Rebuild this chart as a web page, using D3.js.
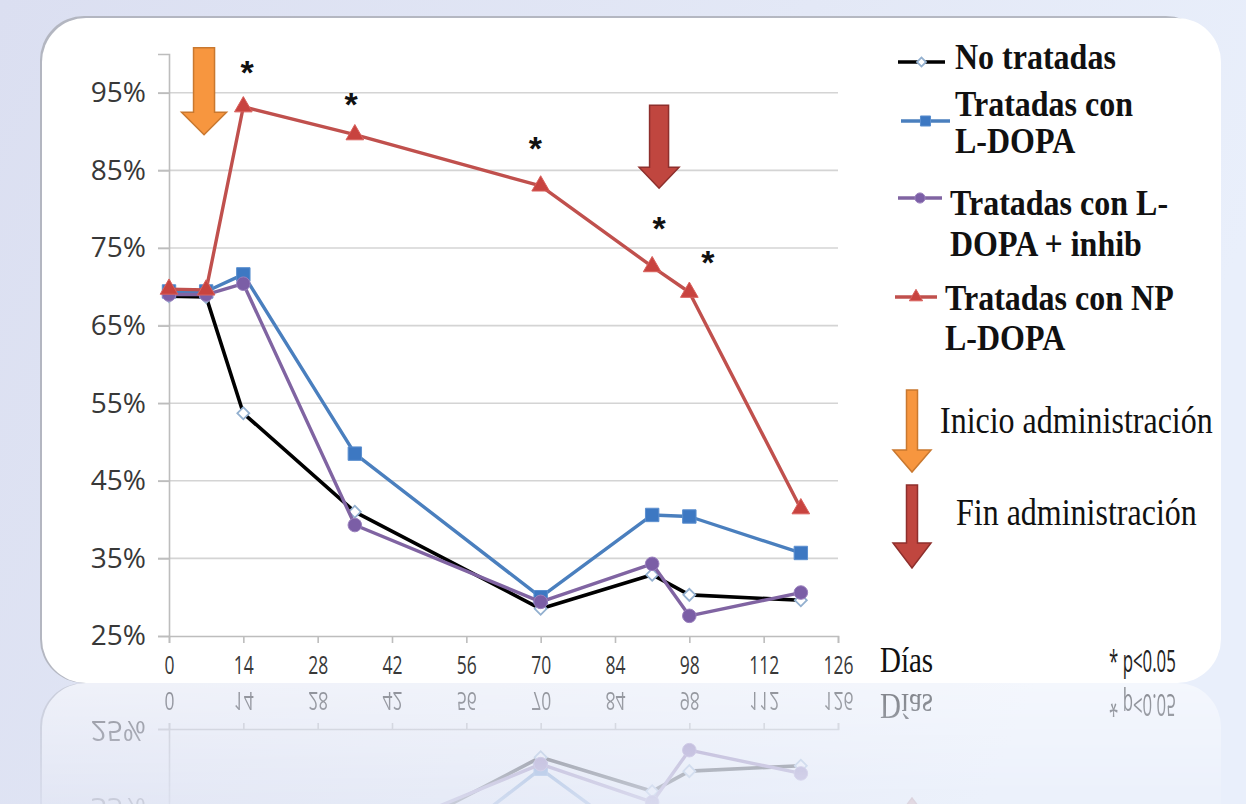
<!DOCTYPE html>
<html><head><meta charset="utf-8">
<script src="https://cdn.jsdelivr.net/npm/d3@7/dist/d3.min.js"></script>
<style>html,body{margin:0;padding:0;overflow:hidden;background:#e2e6f5}</style>
</head><body>
<svg id="c" width="1246" height="804"></svg>
<script>
// ---------- DATA ----------
const days = [0, 7, 14, 35, 70, 91, 98, 119];
const noTratadas = [68.8, 68.7, 53.7, 41.0, 28.5, 32.9, 30.3, 29.6];
const lDopa      = [69.4, 69.4, 71.6, 48.5, 30.0, 40.6, 40.4, 35.7];
const lDopaInhib = [69.0, 69.0, 70.4, 39.3, 29.4, 34.3, 27.6, 30.6];
const npLDopa    = [69.7, 69.6, 93.2, 89.6, 83.0, 72.6, 69.3, 41.4];
const xTicks = [0, 14, 28, 42, 56, 70, 84, 98, 112, 126];
const yTicks = [25, 35, 45, 55, 65, 75, 85, 95];
const legendLabels = [["No tratadas"], ["Tratadas con", "L-DOPA"], ["Tratadas con L-", "DOPA + inhib"], ["Tratadas con NP", "L-DOPA"]];
const sigDays   = [14.7, 34.3, 69.0, 92.3, 101.5];
const sigLevels = [98.6, 94.5, 88.9, 78.5, 74.1];
const arrowLabels = ["Inicio administración", "Fin administración"];
const xTitle = "Días";
const pNote = "* p<0.05";

// ---------- SETUP ----------
const svg = d3.select("#c");
const defs = svg.append("defs");
const bg = defs.append("linearGradient").attr("id", "bg").attr("x1", "0").attr("x2", "1").attr("y1", "0").attr("y2", "0.3");
bg.append("stop").attr("offset", "0").attr("stop-color", "#dbdff1");
bg.append("stop").attr("offset", "0.6").attr("stop-color", "#e3e8f6");
bg.append("stop").attr("offset", "1").attr("stop-color", "#e9effb");
const fade = defs.append("linearGradient").attr("id", "fade").attr("gradientUnits", "userSpaceOnUse")
  .attr("x1", 0).attr("y1", 683).attr("x2", 0).attr("y2", 804);
fade.append("stop").attr("offset", "0").attr("stop-color", "#fff").attr("stop-opacity", 0.5);
fade.append("stop").attr("offset", "1").attr("stop-color", "#fff").attr("stop-opacity", 0.12);
defs.append("mask").attr("id", "reflMask").attr("maskUnits", "userSpaceOnUse")
  .attr("x", 0).attr("y", 683).attr("width", 1246).attr("height", 121)
  .append("rect").attr("x", 0).attr("y", 683).attr("width", 1246).attr("height", 121).attr("fill", "url(#fade)");

svg.append("rect").attr("width", 1246).attr("height", 804).attr("fill", "url(#bg)");

const scene = svg.append("g").attr("id", "scene");
// card
scene.append("rect").attr("x", 40).attr("y", 16).attr("width", 1170).attr("height", 667).attr("rx", 44)
  .attr("fill", "#a9abb4").attr("opacity", 0.8);
scene.append("rect").attr("x", 42).attr("y", 18).attr("width", 1179).attr("height", 665).attr("rx", 44)
  .attr("fill", "#ffffff");

const x = d3.scaleLinear().domain([0, 126]).range([169, 838]);
const y = d3.scaleLinear().domain([25, 100]).range([636, 54]);

const plot = scene.append("g");
// gridlines
plot.append("g").selectAll("line").data(yTicks.filter(d => d > 25)).join("line")
  .attr("x1", x(0) - 11).attr("x2", x(126)).attr("y1", d => y(d)).attr("y2", d => y(d))
  .attr("stroke", "#d4d4d4").attr("stroke-width", 1.6);
// y axis
const yAxis = d3.axisLeft(y).tickValues(yTicks).tickSize(11).tickFormat(d => d + "%");
const yg = plot.append("g").attr("transform", `translate(${x(0)},0)`).call(yAxis);
yg.select(".domain").attr("stroke", "#bdbdbd").attr("stroke-width", 1.6);
yg.selectAll(".tick line").attr("stroke", "#bdbdbd").attr("stroke-width", 1.6);
yg.selectAll(".tick text").attr("x", -23).attr("font-family", "'Open Sans', sans-serif").attr("font-size", 28)
  .attr("fill", "#383838");
// x axis
const xAxis = d3.axisBottom(x).tickValues(xTicks).tickSize(7).tickFormat(d3.format("d"));
const xg = plot.append("g").attr("transform", `translate(0,${y(25)})`).call(xAxis);
xg.select(".domain").attr("stroke", "#bdbdbd").attr("stroke-width", 1.6);
xg.selectAll(".tick line").attr("stroke", "#bdbdbd").attr("stroke-width", 1.6);
xg.selectAll(".tick text").attr("y", 0).attr("dy", 0)
  .attr("transform", "translate(0,38) scale(0.7,1.05)")
  .attr("font-family", "'Open Sans', sans-serif").attr("font-size", 25).attr("fill", "#383838");

// arrows (block arrows)
function blockArrow(g, cx, top, headStart, tip, shaftW, headW, fill, stroke) {
  const p = d3.path();
  p.moveTo(cx - shaftW / 2, top); p.lineTo(cx + shaftW / 2, top); p.lineTo(cx + shaftW / 2, headStart);
  p.lineTo(cx + headW / 2, headStart); p.lineTo(cx, tip); p.lineTo(cx - headW / 2, headStart);
  p.lineTo(cx - shaftW / 2, headStart); p.closePath();
  g.append("path").attr("d", p.toString()).attr("fill", fill).attr("stroke", stroke).attr("stroke-width", 1.5)
    .attr("stroke-linejoin", "miter");
}
blockArrow(plot, x(6.6), y(100.8), y(92.5), y(89.6), 21, 45, "#f7963f", "#c9782f");
blockArrow(plot, x(92.3), y(93.4), y(85.4), y(82.7), 19, 40, "#c0463f", "#8e2f2c");

// series
const series = [
  { name: "No tratadas", vals: noTratadas, color: "#000000", w: 3.6 },
  { name: "L-DOPA", vals: lDopa, color: "#4a7fbe", w: 3.4 },
  { name: "L-DOPA + inhib", vals: lDopaInhib, color: "#8064a2", w: 3.4 },
  { name: "NP L-DOPA", vals: npLDopa, color: "#c0504d", w: 3.4 }
];
const line = d3.line().x(d => x(d[0])).y(d => y(d[1]));
function drawMarker(g, i, px, py, scale) {
  scale = scale || 1;
  if (i === 0) {
    g.append("path").attr("d", d3.symbol(d3.symbolSquare, 72 * scale * scale)())
      .attr("transform", `translate(${px},${py}) rotate(45)`)
      .attr("fill", "#ffffff").attr("stroke", "#93b0cf").attr("stroke-width", 1.8);
  } else if (i === 1) {
    g.append("path").attr("d", d3.symbol(d3.symbolSquare, 180 * scale * scale)())
      .attr("transform", `translate(${px},${py})`).attr("fill", "#3d78c2").attr("stroke", "#5b8fcf").attr("stroke-width", 1);
  } else if (i === 2) {
    g.append("circle").attr("cx", px).attr("cy", py).attr("r", 6.8 * scale)
      .attr("fill", "#7b5ea6").attr("stroke", "#9a80bd").attr("stroke-width", 1);
  } else {
    g.append("path").attr("d", d3.symbol(d3.symbolTriangle, 135 * scale * scale)())
      .attr("transform", `translate(${px},${py})`).attr("fill", "#c8433f").attr("stroke", "#d9605c").attr("stroke-width", 1);
  }
}
series.forEach((s, i) => {
  const pts = days.map((d, k) => [d, s.vals[k]]);
  const g = plot.append("g");
  g.append("path").attr("d", line(pts)).attr("fill", "none").attr("stroke", s.color)
    .attr("stroke-width", s.w).attr("stroke-linejoin", "round");
  pts.forEach(p => drawMarker(g, i, x(p[0]), y(p[1])));
});

// significance asterisks
plot.append("g").selectAll("text").data(sigDays).join("text")
  .attr("x", d => x(d)).attr("y", (d, k) => y(sigLevels[k])).attr("dy", "0.57em")
  .attr("text-anchor", "middle").attr("font-family", "'Liberation Sans', Arial, sans-serif")
  .attr("font-weight", "bold").attr("font-size", 34).attr("fill", "#111").text("*");

// axis title + note
scene.append("text").attr("transform", "translate(880,672) scale(1,1.2)")
  .attr("font-family", "'Liberation Serif', 'Times New Roman', serif").attr("font-size", 29).attr("fill", "#111").text(xTitle);
scene.append("text").attr("transform", "translate(1109,672) scale(0.58,1.08)")
  .attr("font-family", "'Open Sans', sans-serif").attr("font-size", 29).attr("fill", "#222").text(pNote);

// legend
const leg = scene.append("g");
const legLayout = [
  { x: 955, base: [69], my: 62, m1: 898, m2: 945 },
  { x: 955, base: [116, 153], my: 121, m1: 901, m2: 950 },
  { x: 950, base: [215, 256], my: 198, m1: 898, m2: 942 },
  { x: 945, base: [310, 350], my: 297, m1: 895, m2: 937 }
];
legendLabels.forEach((lines, i) => {
  const L = legLayout[i];
  leg.append("line").attr("x1", L.m1).attr("x2", L.m2).attr("y1", L.my).attr("y2", L.my)
    .attr("stroke", series[i].color).attr("stroke-width", 3.6);
  drawMarker(leg, i, (L.m1 + L.m2) / 2, L.my, 0.75);
  lines.forEach((t, k) => {
    leg.append("text").attr("transform", `translate(${L.x},${L.base[k]}) scale(1,1.12)`)
      .attr("font-family", "'Liberation Serif', 'Times New Roman', serif").attr("font-weight", "bold")
      .attr("font-size", 32).attr("fill", "#111").text(t);
  });
});
blockArrow(leg, 912, 390, 450, 472, 11, 38, "#f7963f", "#c9782f");
blockArrow(leg, 912, 485, 543, 568, 11, 38, "#c0463f", "#8e2f2c");
leg.append("text").attr("transform", "translate(940,433) scale(1,1.18)")
  .attr("font-family", "'Liberation Serif', 'Times New Roman', serif").attr("font-size", 32).attr("fill", "#111").text(arrowLabels[0]);
leg.append("text").attr("transform", "translate(956,525) scale(1,1.18)")
  .attr("font-family", "'Liberation Serif', 'Times New Roman', serif").attr("font-size", 32).attr("fill", "#111").text(arrowLabels[1]);

// reflection
svg.append("g").attr("mask", "url(#reflMask)")
  .append("use").attr("href", "#scene").attr("transform", "matrix(1,0,0,-1,0,1366)");
</script>
</body></html>
